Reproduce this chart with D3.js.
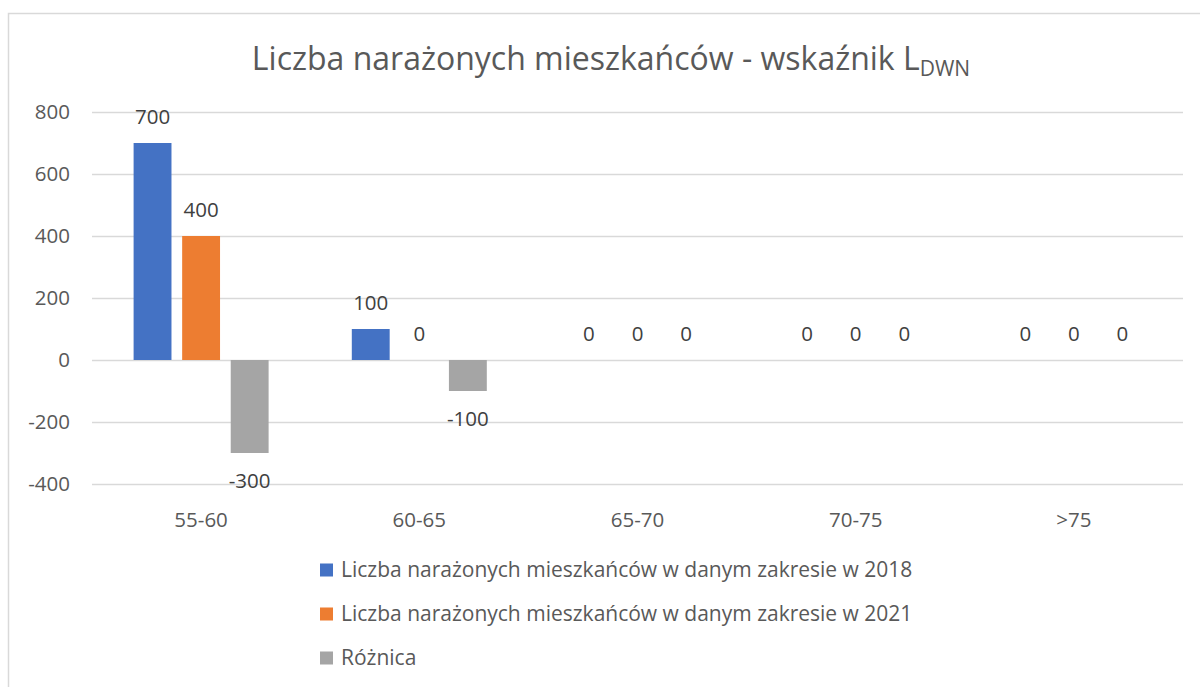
<!DOCTYPE html>
<html>
<head>
<meta charset="utf-8">
<script src="https://cdn.jsdelivr.net/npm/d3@7"></script>
<style>
  html, body { margin: 0; padding: 0; background: #fff; }
  svg { display: block; font-family: "Open Sans", "Noto Sans", sans-serif; }
</style>
</head>
<body>
<svg id="chart" width="1200" height="687"></svg>
<script>
/* ── Data ─────────────────────────────────────────────────────────────────── */

const CATEGORIES = ["55-60", "60-65", "65-70", "70-75", ">75"];
const SERIES_NAMES = [
  "Liczba narażonych mieszkańców w danym zakresie w 2018",
  "Liczba narażonych mieszkańców w danym zakresie w 2021",
  "Różnica",
];
const VALUES_2018 = [700, 100, 0, 0, 0];
const VALUES_2021 = [400, 0, 0, 0, 0];
const VALUES_DIFF = [-300, -100, 0, 0, 0];
const Y_TICKS = [-400, -200, 0, 200, 400, 600, 800];
const COLORS = ["#4472C4", "#ED7D31", "#A5A5A5"];

/* ── Layout ───────────────────────────────────────────────────────────────── */

const svg = d3.select("#chart");
const plot = { left: 92, right: 1183, top: 112, bottom: 484 };

// chart border
svg.append("rect")
  .attr("x", 8.5).attr("y", 13.5)
  .attr("width", 1205).attr("height", 690)
  .attr("fill", "none")
  .attr("stroke", "#d9d9d9")
  .attr("stroke-width", 1.5);

// title with subscript
const title = svg.append("text")
  .attr("x", 611).attr("y", 70)
  .attr("text-anchor", "middle")
  .attr("fill", "#595959")
  .attr("font-size", 32);
title.append("tspan").text("Liczba narażonych mieszkańców - wskaźnik L");
title.append("tspan").attr("font-size", 21).attr("dy", 6).text("DWN");

const y = d3.scaleLinear()
  .domain([d3.min(Y_TICKS), d3.max(Y_TICKS)])
  .range([plot.bottom, plot.top]);

const x0 = d3.scaleBand()
  .domain(CATEGORIES)
  .range([plot.left, plot.right])
  .paddingInner(0)
  .paddingOuter(0);

const groupW = 135;
const x1 = d3.scaleBand()
  .domain([0, 1, 2])
  .range([0, groupW])
  .paddingInner(0.22);

// gridlines
svg.append("g")
  .selectAll("line")
  .data(Y_TICKS)
  .join("line")
  .attr("x1", plot.left).attr("x2", plot.right)
  .attr("y1", (d) => Math.round(y(d)) + 0.5)
  .attr("y2", (d) => Math.round(y(d)) + 0.5)
  .attr("stroke", "#d9d9d9")
  .attr("stroke-width", 1.3);

// y tick labels
svg.append("g")
  .selectAll("text")
  .data(Y_TICKS)
  .join("text")
  .attr("x", 70)
  .attr("y", (d) => y(d))
  .attr("dy", "0.35em")
  .attr("text-anchor", "end")
  .attr("fill", "#595959")
  .attr("font-size", 20.5)
  .text((d) => d);

// category labels
svg.append("g")
  .selectAll("text")
  .data(CATEGORIES)
  .join("text")
  .attr("x", (d) => x0(d) + x0.bandwidth() / 2)
  .attr("y", 520)
  .attr("dy", "0.35em")
  .attr("text-anchor", "middle")
  .attr("fill", "#595959")
  .attr("font-size", 20.5)
  .text((d) => d);

/* ── Bars ─────────────────────────────────────────────────────────────────── */

const SERIES_VALUES = [VALUES_2018, VALUES_2021, VALUES_DIFF];
const bars = [];
CATEGORIES.forEach((cat, i) => {
  SERIES_VALUES.forEach((vals, s) => {
    bars.push({ cat, s, v: vals[i] });
  });
});

const barX = (d) => x0(d.cat) + (x0.bandwidth() - groupW) / 2 + x1(d.s);

svg.append("g")
  .selectAll("rect")
  .data(bars)
  .join("rect")
  .attr("x", barX)
  .attr("width", x1.bandwidth())
  .attr("y", (d) => y(Math.max(0, d.v)))
  .attr("height", (d) => Math.abs(y(d.v) - y(0)))
  .attr("fill", (d) => COLORS[d.s]);

svg.append("g")
  .selectAll("text")
  .data(bars)
  .join("text")
  .attr("x", (d) => barX(d) + x1.bandwidth() / 2)
  .attr("y", (d) => (d.v < 0 ? y(d.v) + 28 : y(d.v) - 26))
  .attr("dy", "0.35em")
  .attr("text-anchor", "middle")
  .attr("fill", "#404040")
  .attr("font-size", 20.5)
  .text((d) => String(d.v));

/* ── Legend ───────────────────────────────────────────────────────────────── */

const legend = svg.append("g")
  .selectAll("g")
  .data(SERIES_NAMES)
  .join("g")
  .attr("transform", (_, i) => `translate(320,${570 + i * 44})`);

legend.append("rect")
  .attr("x", 0).attr("y", -6.5)
  .attr("width", 13).attr("height", 13)
  .attr("fill", (_, i) => COLORS[i]);

legend.append("text")
  .attr("x", 21)
  .attr("dy", "0.35em")
  .attr("fill", "#595959")
  .attr("font-size", 21)
  .text((d) => d);
</script>
</body>
</html>
